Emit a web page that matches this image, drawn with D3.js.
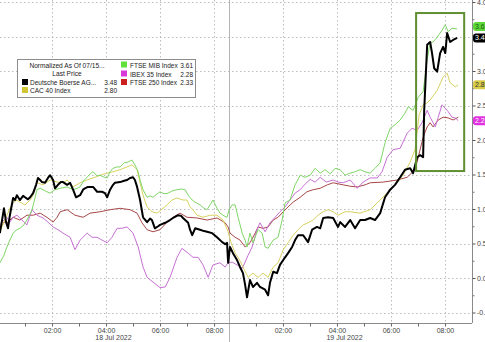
<!DOCTYPE html>
<html><head><meta charset="utf-8">
<script src="https://cdn.jsdelivr.net/npm/d3@7"></script>
<style>
body{margin:0;background:#fff}
svg{display:block}
text{font-family:"Liberation Sans",Arial,sans-serif}
</style></head>
<body><svg id="c" width="485" height="342"></svg>
<script>
// ---------- data ----------
const dayLabels = ["18 Jul 2022", "19 Jul 2022"];
const dayStart = [0, 8.55];           // trading-hour index where each day begins
const dayEnd = [8.55, 17.55];
const hourTicks = [1,2,3,4,5,6,7,8];
const hourLabels = ["02:00","04:00","06:00","08:00"];
const yTicks = [-0.5,0,0.5,1,1.5,2,2.5,3,3.5,4];
const yMinor = [-0.25,0.25,0.75,1.25,1.75,2.25,2.75,3.25,3.75];

const legendHeader = ["Normalized As Of 07/15...", "Last Price"];
const names = ["Deutsche Boerse AG...", "CAC 40 Index", "FTSE MIB Index", "IBEX 35 Index", "FTSE 250 Index"];
const lastPrices = [3.48, 2.80, 3.61, 2.28, 2.33];
const highlight = {t0: 15.48, t1: 17.26, v0: 1.55, v1: 3.84};

// times: trading-hour index (18 Jul 00:00 = 0, 19 Jul 00:00 = 8.55)
const dbT = [0.07,0.15,0.22,0.30,0.37,0.44,0.56,0.63,0.70,0.81,0.93,1.00,1.11,1.19,1.30,1.41,1.48,1.56,1.63,1.74,1.85,1.93,2.04,2.11,2.22,2.33,2.41,2.56,2.67,2.78,2.89,3.04,3.15,3.22,3.33,3.52,3.67,3.85,3.96,4.04,4.15,4.26,4.33,4.52,4.67,4.78,4.89,5.00,5.07,5.15,5.26,5.37,5.52,5.63,5.70,5.81,5.93,6.00,6.19,6.37,6.52,6.67,6.78,6.85,7.04,7.11,7.19,7.30,7.48,7.63,7.74,7.93,8.11,8.30,8.41,8.48,8.52,8.59,8.70,8.85,8.96,9.07,9.15,9.22,9.33,9.44,9.59,9.70,9.89,10.00,10.07,10.19,10.33,10.44,10.63,10.74,10.89,11.00,11.11,11.30,11.48,11.63,11.81,11.93,12.04,12.22,12.41,12.59,12.67,12.85,13.04,13.22,13.41,13.59,13.78,13.96,14.15,14.33,14.52,14.70,14.89,15.07,15.26,15.37,15.52,15.63,15.74,15.78,15.89,16.00,16.07,16.15,16.26,16.37,16.48,16.56,16.63,16.74,16.85,17.00];
const dbV = [0.65,0.84,1.01,0.81,0.72,0.91,1.16,1.13,1.20,1.13,1.19,1.17,1.14,1.17,1.23,1.35,1.45,1.42,1.39,1.38,1.45,1.49,1.42,1.30,1.35,1.39,1.39,1.35,1.38,1.28,1.17,1.20,1.28,1.30,1.32,1.32,1.25,1.25,1.23,1.17,1.28,1.35,1.38,1.39,1.41,1.42,1.45,1.46,1.42,1.32,1.13,0.88,0.81,0.86,0.84,0.72,0.75,0.77,0.80,0.84,0.88,0.91,0.90,0.87,0.80,0.70,0.62,0.72,0.70,0.68,0.67,0.65,0.59,0.52,0.49,0.51,0.22,0.45,0.36,0.26,0.16,0.07,-0.10,-0.28,-0.03,-0.13,-0.07,-0.13,-0.17,-0.25,-0.07,0.09,0.07,0.19,0.30,0.36,0.45,0.55,0.62,0.62,0.52,0.70,0.74,0.72,0.87,0.88,0.87,0.74,0.81,0.74,0.84,0.72,0.84,0.84,0.87,0.84,0.94,1.17,1.28,1.35,1.46,1.57,1.59,1.52,1.75,1.78,1.75,2.43,3.38,3.42,3.26,3.04,2.99,3.26,3.35,3.26,3.55,3.42,3.45,3.48];

const mibT = [0.07,0.22,0.33,0.44,0.56,0.70,0.81,0.96,1.07,1.19,1.26,1.37,1.44,1.56,1.67,1.81,1.93,2.11,2.30,2.56,2.78,2.93,3.04,3.19,3.30,3.41,3.52,3.67,3.78,3.93,4.04,4.15,4.26,4.41,4.52,4.67,4.81,4.96,5.07,5.19,5.26,5.37,5.52,5.63,5.74,5.89,6.00,6.15,6.30,6.44,6.63,6.78,6.93,7.04,7.19,7.33,7.48,7.63,7.74,7.85,7.96,8.11,8.22,8.37,8.48,8.56,8.67,8.78,8.89,9.04,9.15,9.22,9.33,9.44,9.63,9.78,9.89,10.00,10.19,10.37,10.52,10.63,10.81,11.00,11.19,11.37,11.56,11.74,11.93,12.11,12.30,12.48,12.67,12.85,13.04,13.22,13.41,13.59,13.78,13.96,14.15,14.33,14.52,14.70,14.89,15.07,15.19,15.37,15.56,15.74,15.89,16.00,16.11,16.26,16.44,16.56,16.67,16.81,17.00];
const mibV = [0.22,0.33,0.45,0.55,0.65,0.70,0.72,0.77,0.84,0.93,0.99,1.16,1.28,1.30,1.28,1.25,1.23,1.28,1.30,1.32,1.28,1.30,1.32,1.42,1.46,1.51,1.54,1.48,1.49,1.46,1.45,1.54,1.59,1.61,1.61,1.67,1.68,1.71,1.64,1.54,1.42,1.28,1.17,1.19,1.17,1.22,1.25,1.22,1.23,1.26,1.28,1.29,1.28,1.20,1.13,1.09,1.06,1.01,0.99,1.06,1.13,1.01,0.94,0.90,0.88,0.99,1.06,1.06,0.88,0.65,0.55,0.45,0.65,0.51,0.70,0.65,0.45,0.43,0.55,0.59,0.84,1.09,1.13,1.35,1.49,1.46,1.49,1.59,1.52,1.57,1.51,1.59,1.57,1.49,1.52,1.54,1.57,1.54,1.52,1.59,1.67,1.96,2.17,2.22,2.29,2.39,2.48,2.43,2.62,2.70,3.16,3.41,3.42,3.49,3.59,3.67,3.57,3.62,3.61];

const ibexT = [0.07,0.22,0.33,0.44,0.56,0.70,0.81,0.96,1.07,1.26,1.44,1.67,1.85,2.04,2.22,2.41,2.67,2.85,3.04,3.30,3.48,3.67,3.85,4.04,4.22,4.41,4.59,4.78,5.00,5.19,5.37,5.52,5.74,6.00,6.19,6.37,6.63,6.81,7.04,7.22,7.41,7.59,7.78,7.96,8.22,8.41,8.52,8.67,8.85,9.04,9.15,9.26,9.41,9.59,9.70,9.89,10.07,10.26,10.44,10.63,10.81,11.00,11.19,11.37,11.56,11.74,11.93,12.15,12.41,12.59,12.78,13.04,13.30,13.52,13.78,14.04,14.22,14.41,14.63,14.89,15.15,15.33,15.52,15.70,15.89,16.00,16.19,16.30,16.44,16.56,16.67,16.81,16.93,17.04];
const ibexV = [0.77,0.84,0.88,0.81,0.88,0.91,0.87,0.81,0.77,0.99,0.91,0.87,0.81,0.74,0.70,0.65,0.59,0.41,0.55,0.65,0.59,0.59,0.55,0.51,0.59,0.72,0.72,0.74,0.65,0.45,0.16,0.01,-0.06,-0.14,-0.13,0.01,0.30,0.43,0.36,0.30,0.30,0.19,0.01,0.19,0.22,0.16,0.22,0.23,0.19,0.14,0.23,0.33,0.45,0.70,0.80,0.67,0.80,0.88,0.96,1.03,1.13,1.23,1.28,1.36,1.43,1.39,1.46,1.39,1.42,1.39,1.38,1.42,1.30,1.39,1.45,1.45,1.54,1.75,1.86,1.88,2.10,2.17,2.14,2.25,2.43,2.33,2.19,2.33,2.51,2.46,2.41,2.33,2.32,2.28];

const ftseT = [0.07,0.22,0.33,0.44,0.56,0.81,1.07,1.30,1.56,1.81,2.04,2.19,2.30,2.56,2.85,3.15,3.41,3.78,4.15,4.52,4.89,5.15,5.33,5.52,5.74,6.00,6.26,6.48,6.74,7.00,7.37,7.74,8.11,8.41,8.52,8.59,8.78,8.96,9.15,9.33,9.52,9.63,9.81,10.00,10.19,10.37,10.56,10.74,10.93,11.19,11.44,11.67,11.93,12.19,12.41,12.78,13.04,13.30,13.59,13.78,14.26,14.78,15.15,15.44,15.56,15.74,15.89,16.00,16.11,16.30,16.48,16.67,16.85,17.04];
const ftseV = [0.70,0.81,0.80,0.84,0.88,0.84,0.91,0.91,0.94,0.88,0.81,0.88,0.96,0.99,0.91,0.88,0.94,0.96,0.99,1.01,0.99,0.94,0.80,0.70,0.67,0.70,0.81,0.88,0.94,0.88,0.87,0.84,0.87,0.80,0.74,0.65,0.59,0.55,0.45,0.51,0.65,0.74,0.72,0.74,0.84,0.88,0.96,1.03,1.10,1.17,1.25,1.28,1.30,1.35,1.38,1.35,1.33,1.32,1.35,1.38,1.39,1.42,1.46,1.57,1.75,2.04,2.19,2.25,2.19,2.29,2.33,2.32,2.29,2.33];

const cacT = [0.07,0.22,0.33,0.44,0.56,0.70,0.81,1.00,1.19,1.30,1.44,1.67,1.93,2.19,2.41,2.56,2.78,3.04,3.30,3.52,3.78,4.04,4.26,4.52,4.78,4.96,5.15,5.26,5.37,5.52,5.70,5.89,6.11,6.26,6.44,6.63,6.85,7.00,7.11,7.22,7.37,7.59,7.85,8.11,8.33,8.52,8.63,8.78,8.89,9.07,9.26,9.44,9.63,9.81,10.00,10.19,10.37,10.56,10.74,10.93,11.11,11.30,11.48,11.67,11.85,12.04,12.22,12.41,12.59,12.85,13.04,13.41,13.78,14.15,14.44,14.78,15.00,15.26,15.44,15.59,15.74,15.89,16.00,16.26,16.48,16.63,16.74,16.93,17.04];
const cacV = [0.67,0.81,0.91,1.01,1.09,1.13,1.10,1.06,1.13,1.20,1.38,1.35,1.42,1.39,1.38,1.42,1.32,1.38,1.42,1.45,1.49,1.52,1.54,1.57,1.61,1.64,1.57,1.38,1.20,1.03,0.96,0.94,1.01,1.06,1.13,1.16,1.13,1.13,1.03,0.99,0.91,0.88,0.91,0.91,0.84,0.67,0.51,0.36,0.30,0.16,0.01,0.07,0.01,0.07,0.01,0.16,0.22,0.41,0.51,0.62,0.70,0.77,0.80,0.84,0.91,0.96,0.99,0.96,0.91,0.96,0.96,0.94,0.99,1.13,1.25,1.38,1.49,1.68,1.86,2.36,2.51,2.54,2.58,2.72,2.91,2.97,2.83,2.77,2.80];

// ---------- drawing ----------
const W = 485, H = 342, plotR = 472, plotB = 323;
const svg = d3.select("#c");
const x = d3.scaleLinear().domain([0, 17.55]).range([-2, plotR]);
const y = d3.scaleLinear().domain([-0.5, 4.0]).range([312.5, 2]);

svg.append("defs").append("clipPath").attr("id","clip")
  .append("rect").attr("x",0).attr("y",0).attr("width",plotR).attr("height",plotB);

const grid = svg.append("g");
grid.selectAll("line.h").data(yTicks).join("line")
  .attr("x1",0).attr("x2",plotR).attr("y1",d=>Math.round(y(d))+0.5).attr("y2",d=>Math.round(y(d))+0.5)
  .attr("stroke","#bdbdbd").attr("stroke-dasharray","1.5,2.5");
const evenHours = [];
dayStart.forEach((s,i)=>[2,4,6,8].forEach(h=>evenHours.push(s+h)));
grid.selectAll("line.v").data(evenHours).join("line")
  .attr("x1",d=>Math.round(x(d))+0.5).attr("x2",d=>Math.round(x(d))+0.5).attr("y1",0).attr("y2",plotB)
  .attr("stroke","#bdbdbd").attr("stroke-dasharray","1.5,2.5");
grid.append("line").attr("x1",Math.round(x(dayStart[1]))+0.5).attr("x2",Math.round(x(dayStart[1]))+0.5)
  .attr("y1",0).attr("y2",H).attr("stroke","#b5b5b5");

// axes
const yAxis = d3.axisRight(y).tickValues(yTicks).tickSize(3).tickPadding(1.5)
  .tickFormat(d=>d===3.5 ? "" : d.toFixed(1));   // 3.5 label sits under the last-value tags
const ya = svg.append("g").attr("transform",`translate(${plotR+0.5},0)`).call(yAxis);
ya.select(".domain").attr("stroke","#8a8a8a").attr("d",`M0,0V${plotB}`);
ya.selectAll(".tick line").attr("stroke","#555");
ya.selectAll(".tick text").attr("font-size",7).attr("fill","#444").attr("font-family","Liberation Sans, Arial, sans-serif");
const ym = svg.append("g").attr("transform",`translate(${plotR+0.5},0)`)
  .call(d3.axisRight(y).tickValues(yMinor).tickSize(2).tickFormat(""));
ym.select(".domain").remove();
ym.selectAll(".tick line").attr("stroke","#777");

const allHours = [];
dayStart.forEach(s=>hourTicks.forEach(h=>allHours.push(s+h)));
const xAxis = d3.axisBottom(x).tickValues(allHours).tickSize(3).tickPadding(2)
  .tickFormat(d=>{ const i = d>=dayStart[1]-1e-6?1:0; const h = Math.round(d-dayStart[i]); return h%2===0 ? hourLabels[h/2-1] : ""; });
const xa = svg.append("g").attr("transform",`translate(0,${plotB+0.5})`).call(xAxis);
xa.select(".domain").attr("stroke","#8a8a8a").attr("d",`M0,0H${plotR}`);
xa.selectAll(".tick line").attr("stroke","#666");
xa.selectAll(".tick text").attr("font-size",7).attr("fill","#444").attr("font-family","Liberation Sans, Arial, sans-serif");

svg.append("g").selectAll("text").data(dayLabels).join("text")
  .attr("x",(d,i)=>x(i===0 ? (dayStart[0]+dayEnd[0])/2 : 12.83)).attr("y",340)
  .attr("text-anchor","middle").attr("font-size",7).attr("fill","#444").text(d=>d);

// series
const series = [
  {t: ftseT, v: ftseV, color: "#a84848", w: 1},
  {t: ibexT, v: ibexV, color: "#c770d4", w: 1},
  {t: cacT,  v: cacV,  color: "#d8d262", w: 1},
  {t: mibT,  v: mibV,  color: "#7fd666", w: 1},
  {t: dbT,   v: dbV,   color: "#000000", w: 2}
];
const line = d3.line().x(d=>x(d[0])).y(d=>y(d[1]));
const lines = svg.append("g").attr("clip-path","url(#clip)");
series.forEach(s=>{
  lines.append("path").datum(s.t.map((t,i)=>[t,s.v[i]]))
    .attr("d",line).attr("fill","none").attr("stroke",s.color)
    .attr("stroke-width",s.w).attr("stroke-linejoin","round");
});

// highlight box
svg.append("rect")
  .attr("x",x(highlight.t0)).attr("y",y(highlight.v1))
  .attr("width",x(highlight.t1)-x(highlight.t0)).attr("height",y(highlight.v0)-y(highlight.v1))
  .attr("fill","none").attr("stroke","#5f8f30").attr("stroke-width",2);

// right-side last value labels
const tags = [
  {v: lastPrices[3], fill:"#e030e0", text:"#fff", dy:0},
  {v: lastPrices[1], fill:"#d8cd48", text:"#333", dy:0},
  {v: lastPrices[2], fill:"#5fd83a", text:"#1a5a10", dy:-2.5},
  {v: lastPrices[0], fill:"#000", text:"#fff", dy:0}
];
const tg = svg.append("g");
tags.forEach(t=>{
  const cy = y(t.v)+t.dy;
  tg.append("rect").attr("x",473).attr("y",cy-4.5).attr("width",20).attr("height",9).attr("rx",3).attr("fill",t.fill);
  tg.append("text").attr("x",475).attr("y",cy+2.5).attr("font-size",7).attr("fill",t.text).text(t.v.toFixed(2));
});

// legend
const lg = svg.append("g");
lg.append("rect").attr("x",17.5).attr("y",59.5).attr("width",178).attr("height",38)
  .attr("fill","#fff").attr("stroke","#8c8c8c");
lg.selectAll("text.h").data(legendHeader).join("text")
  .attr("x",67).attr("y",(d,i)=>67.5+i*8.5).attr("text-anchor","middle")
  .attr("font-size",6.6).attr("fill","#222").text(d=>d);
const legItems = [
  {i:0, col:"#000",    x:22,  tx:30,  vx:117, yb:85},
  {i:1, col:"#cfc535", x:22,  tx:30,  vx:117, yb:93},
  {i:2, col:"#5fe03a", x:121, tx:130, vx:193, yb:67.5},
  {i:3, col:"#d838d8", x:121, tx:130, vx:193, yb:76.5},
  {i:4, col:"#cc2020", x:121, tx:130, vx:193, yb:85}
];
legItems.forEach(it=>{
  lg.append("rect").attr("x",it.x).attr("y",it.yb-6).attr("width",6).attr("height",6).attr("fill",it.col);
  lg.append("text").attr("x",it.tx).attr("y",it.yb).attr("font-size",6.5).attr("fill","#222").text(names[it.i]);
  lg.append("text").attr("x",it.vx).attr("y",it.yb).attr("text-anchor","end").attr("font-size",6.5).attr("fill","#222").text(lastPrices[it.i].toFixed(2));
});
</script>
</body></html>
